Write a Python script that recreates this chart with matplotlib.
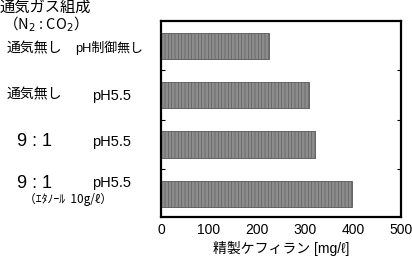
import matplotlib
matplotlib.use("Agg")
import matplotlib.pyplot as plt

plt.rcParams['font.family'] = ['Liberation Sans', 'Noto Sans CJK JP', 'DejaVu Sans']
plt.rcParams['hatch.linewidth'] = 0.4

# data (top to bottom)
conditions = ["通気無し / pH制御無し", "通気無し / pH5.5", "9:1 / pH5.5", "9:1 / pH5.5 + エタノール"]
kefiran = [225, 308, 321, 398]
x_ticks = [0, 100, 200, 300, 400, 500]

W, H = 412, 258
fig = plt.figure(figsize=(W / 100, H / 100), dpi=100)


def px(x, y):
    return x / W, 1 - y / H


ax = fig.add_axes([161 / W, 1 - 217 / H, 240 / W, 196 / H])
ypos = list(range(len(kefiran)))
ax.barh(ypos, kefiran, height=0.53, color="#8c8c8c", edgecolor="#555555",
        hatch="|||||", linewidth=0.6)
ax.set_xlim(0, 500)
ax.set_ylim(3.47, -0.5)
ax.set_xticks(x_ticks)
ax.set_xticklabels([str(t) for t in x_ticks], fontsize=10)
ax.set_yticks([0.5, 1.5, 2.5])
ax.set_yticklabels([])
ax.tick_params(axis="y", direction="in", length=3, left=True, right=True)
ax.tick_params(axis="x", length=0, pad=4)
for s in ax.spines.values():
    s.set_linewidth(1.6)
ax.set_xlabel("精製ケフィラン [mg/ℓ]", fontsize=10, labelpad=3)

# left-hand condition labels
cjk = ['Noto Sans CJK JP', 'DejaVu Sans']
fig.text(*px(0, 7), "通気ガス組成", fontsize=11, va="center", ha="left", family=cjk)
fig.text(*px(3, 24), "（N$_2$ : CO$_2$）", fontsize=10.5, va="center", ha="left", family=cjk)

fig.text(*px(7, 48), "通気無し", fontsize=10, va="center", ha="left", family=cjk)
fig.text(*px(75, 48), "pH制御無し", fontsize=9.3, va="center", ha="left")
fig.text(*px(7, 94), "通気無し", fontsize=10, va="center", ha="left", family=cjk)
fig.text(*px(92, 96), "pH5.5", fontsize=10.5, va="center", ha="left")
fig.text(*px(17, 141), "9 : 1", fontsize=13, va="center", ha="left")
fig.text(*px(92, 142), "pH5.5", fontsize=10.5, va="center", ha="left")
fig.text(*px(17, 184), "9 : 1", fontsize=13, va="center", ha="left")
fig.text(*px(92, 183), "pH5.5", fontsize=10.5, va="center", ha="left")
fig.text(*px(24, 199), "（ｴﾀﾉｰﾙ  10g/ℓ）", fontsize=8.5, va="center", ha="left", family=cjk)

fig.savefig("out.png", dpi=100)
